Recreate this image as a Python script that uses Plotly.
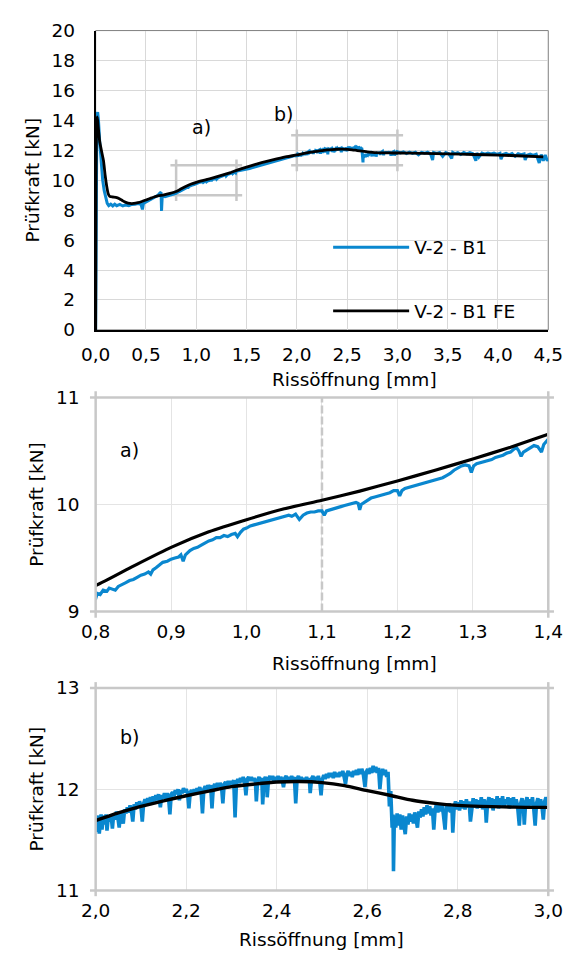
import plotly.graph_objects as go

# ---------------- data ----------------
# measured curve (V-2 - B1), split in sections: (crack opening mm, force kN)
BLUE_START = [(0.000, 0.0), (0.002, 6.0), (0.005, 12.5), (0.012, 14.3), (0.020, 14.55), (0.028, 14.0),
              (0.040, 12.6), (0.055, 11.0), (0.070, 10.0), (0.085, 9.3), (0.100, 8.8), (0.115, 8.45),
              (0.130, 8.30), (0.150, 8.40), (0.170, 8.28), (0.190, 8.40), (0.210, 8.30), (0.240, 8.38),
              (0.270, 8.28), (0.300, 8.35), (0.330, 8.30), (0.360, 8.38), (0.390, 8.40), (0.420, 8.45),
              (0.450, 8.40), (0.465, 8.05), (0.475, 8.45), (0.500, 8.55), (0.530, 8.65), (0.560, 8.80),
              (0.590, 8.90), (0.620, 9.00), (0.640, 9.15), (0.650, 9.20), (0.655, 7.95), (0.662, 8.95),
              (0.690, 8.90), (0.720, 8.95), (0.750, 9.00), (0.780, 9.08)]

BLUE_A = [(0.800, 9.12), (0.802, 9.17), (0.806, 9.16), (0.810, 9.20), (0.815, 9.19), (0.818, 9.22),
          (0.822, 9.21), (0.826, 9.20), (0.830, 9.235), (0.835, 9.25), (0.840, 9.27), (0.845, 9.29),
          (0.850, 9.30), (0.855, 9.32), (0.860, 9.34), (0.865, 9.35), (0.870, 9.37), (0.873, 9.35),
          (0.876, 9.39), (0.880, 9.41), (0.885, 9.44), (0.889, 9.46), (0.895, 9.47), (0.900, 9.49),
          (0.905, 9.50), (0.910, 9.51), (0.913, 9.53), (0.916, 9.47), (0.919, 9.53), (0.925, 9.57),
          (0.930, 9.59), (0.935, 9.60), (0.940, 9.62), (0.945, 9.64), (0.950, 9.66), (0.955, 9.67),
          (0.960, 9.69), (0.965, 9.69), (0.970, 9.71), (0.975, 9.70), (0.980, 9.72), (0.985, 9.73),
          (0.988, 9.70), (0.992, 9.74), (0.996, 9.77), (1.000, 9.78), (1.005, 9.80), (1.010, 9.81),
          (1.015, 9.82), (1.020, 9.83), (1.025, 9.84), (1.030, 9.85), (1.035, 9.86), (1.040, 9.87),
          (1.045, 9.88), (1.050, 9.89), (1.056, 9.90), (1.060, 9.89), (1.065, 9.91), (1.070, 9.86),
          (1.075, 9.90), (1.080, 9.92), (1.085, 9.93), (1.090, 9.93), (1.095, 9.94), (1.100, 9.94),
          (1.103, 9.90), (1.106, 9.94), (1.110, 9.95), (1.115, 9.96), (1.120, 9.97), (1.125, 9.98),
          (1.130, 9.99), (1.135, 10.00), (1.140, 10.01), (1.145, 10.02), (1.148, 10.01), (1.150, 9.95),
          (1.152, 10.00), (1.158, 10.03), (1.165, 10.06), (1.170, 10.07), (1.175, 10.08), (1.180, 10.09),
          (1.185, 10.10), (1.190, 10.11), (1.195, 10.13), (1.200, 10.13), (1.203, 10.08), (1.206, 10.13),
          (1.210, 10.15), (1.215, 10.16), (1.220, 10.17), (1.225, 10.18), (1.230, 10.19), (1.235, 10.20),
          (1.240, 10.21), (1.245, 10.22), (1.250, 10.23), (1.255, 10.24), (1.260, 10.25), (1.265, 10.27),
          (1.270, 10.29), (1.275, 10.32), (1.280, 10.34), (1.285, 10.36), (1.290, 10.37), (1.295, 10.36),
          (1.298, 10.30), (1.301, 10.36), (1.305, 10.38), (1.310, 10.39), (1.315, 10.40), (1.320, 10.41),
          (1.325, 10.42), (1.330, 10.44), (1.335, 10.45), (1.340, 10.46), (1.345, 10.48), (1.350, 10.49),
          (1.355, 10.52), (1.358, 10.53), (1.361, 10.50), (1.364, 10.45), (1.367, 10.49), (1.372, 10.51),
          (1.377, 10.53), (1.381, 10.55), (1.386, 10.54), (1.391, 10.49), (1.394, 10.56), (1.398, 10.60),
          (1.400, 10.61), (1.405, 10.62)]

BLUE_MID = [(1.42, 10.63), (1.45, 10.66), (1.48, 10.70), (1.50, 10.74), (1.53, 10.78), (1.56, 10.84),
            (1.60, 10.92), (1.63, 10.98), (1.66, 11.04), (1.70, 11.12), (1.73, 11.18), (1.76, 11.24),
            (1.80, 11.32), (1.83, 11.37), (1.86, 11.42), (1.90, 11.48), (1.93, 11.54), (1.96, 11.60),
            (1.99, 11.66)]

BLUE_B = [(2.000, 11.58), (2.002, 11.72), (2.004, 11.62), (2.006, 11.74), (2.008, 11.56), (2.010, 11.70),
          (2.012, 11.75), (2.014, 11.60), (2.017, 11.74), (2.020, 11.65), (2.023, 11.75), (2.025, 11.59),
          (2.028, 11.73), (2.031, 11.68), (2.034, 11.75), (2.037, 11.61), (2.040, 11.76), (2.043, 11.70),
          (2.046, 11.78), (2.049, 11.72), (2.052, 11.62), (2.055, 11.77), (2.058, 11.74), (2.061, 11.66),
          (2.064, 11.80), (2.067, 11.76), (2.070, 11.82), (2.073, 11.77), (2.076, 11.84), (2.079, 11.79),
          (2.082, 11.68), (2.085, 11.85), (2.088, 11.80), (2.091, 11.87), (2.094, 11.82), (2.097, 11.88),
          (2.100, 11.83), (2.103, 11.68), (2.106, 11.86), (2.109, 11.90), (2.112, 11.85), (2.115, 11.91),
          (2.118, 11.86), (2.121, 11.92), (2.124, 11.86), (2.127, 11.93), (2.130, 11.88), (2.133, 11.94),
          (2.136, 11.89), (2.139, 11.95), (2.143, 11.82), (2.146, 11.94), (2.149, 11.91), (2.152, 11.96),
          (2.155, 11.90), (2.158, 11.96), (2.161, 11.92), (2.164, 11.75), (2.167, 11.95), (2.170, 11.97),
          (2.173, 11.93), (2.176, 11.99), (2.179, 11.95), (2.182, 12.00), (2.185, 11.89), (2.188, 11.99),
          (2.191, 11.96), (2.194, 12.01), (2.197, 11.97), (2.200, 12.00), (2.203, 11.96), (2.206, 11.81),
          (2.209, 11.97), (2.212, 11.99), (2.215, 11.95), (2.218, 12.00), (2.221, 11.96), (2.224, 12.01),
          (2.227, 11.98), (2.230, 12.02), (2.233, 11.97), (2.236, 11.76), (2.239, 12.00), (2.242, 12.03),
          (2.245, 11.99), (2.248, 12.04), (2.251, 12.00), (2.254, 12.04), (2.257, 11.81), (2.260, 12.02),
          (2.263, 12.05), (2.266, 12.01), (2.269, 12.06), (2.272, 12.02), (2.275, 12.06), (2.278, 12.03),
          (2.281, 11.86), (2.284, 12.05), (2.287, 12.07), (2.290, 12.03), (2.293, 12.08), (2.296, 12.04),
          (2.299, 12.08), (2.302, 12.05), (2.305, 12.09), (2.308, 11.72), (2.311, 12.06), (2.314, 12.10),
          (2.317, 12.06), (2.320, 12.11), (2.323, 12.07), (2.326, 12.12), (2.329, 12.08), (2.332, 11.94),
          (2.335, 12.10), (2.338, 12.12), (2.341, 12.08), (2.344, 12.12), (2.347, 12.08), (2.350, 12.11),
          (2.353, 12.07), (2.355, 11.88), (2.358, 12.09), (2.361, 12.12), (2.364, 12.08), (2.367, 12.11),
          (2.369, 11.85), (2.372, 12.09), (2.375, 12.12), (2.378, 12.07), (2.379, 11.92), (2.382, 12.10),
          (2.385, 12.13), (2.388, 12.09), (2.391, 12.13), (2.394, 12.08), (2.397, 12.12), (2.400, 12.09),
          (2.403, 12.13), (2.406, 12.08), (2.409, 12.12), (2.412, 12.09), (2.415, 12.02), (2.418, 12.11),
          (2.421, 12.13), (2.424, 12.08), (2.427, 12.12), (2.430, 12.08), (2.433, 12.13), (2.436, 12.09),
          (2.439, 12.12), (2.442, 11.86), (2.445, 12.10), (2.448, 12.13), (2.451, 12.08), (2.454, 12.12),
          (2.457, 12.07), (2.460, 12.11), (2.463, 12.08), (2.466, 12.12), (2.469, 12.07), (2.472, 12.11),
          (2.474, 11.96), (2.477, 12.10), (2.480, 12.13), (2.483, 12.08), (2.486, 12.12), (2.489, 12.09),
          (2.492, 12.13), (2.495, 12.08), (2.498, 11.94), (2.501, 12.10), (2.504, 12.14), (2.507, 12.10),
          (2.510, 12.15), (2.513, 12.11), (2.516, 12.16), (2.519, 12.12), (2.522, 12.16), (2.525, 12.11),
          (2.528, 12.17), (2.531, 12.12), (2.534, 12.16), (2.537, 12.12), (2.540, 12.17), (2.543, 12.13),
          (2.546, 12.18), (2.549, 12.12), (2.552, 12.05), (2.555, 12.15), (2.558, 12.18), (2.561, 12.13),
          (2.564, 12.17), (2.567, 12.12), (2.570, 12.18), (2.573, 12.14), (2.576, 12.19), (2.579, 12.14),
          (2.582, 12.20), (2.585, 12.15), (2.588, 12.20), (2.591, 12.16), (2.595, 12.02), (2.598, 12.17),
          (2.601, 12.20), (2.604, 12.15), (2.607, 12.21), (2.610, 12.16), (2.613, 12.23), (2.616, 12.17),
          (2.619, 12.22), (2.622, 12.16), (2.625, 12.21), (2.628, 12.00), (2.631, 12.15), (2.634, 12.20),
          (2.637, 12.14), (2.640, 12.19), (2.643, 12.12), (2.646, 12.17), (2.649, 11.83), (2.652, 11.98),
          (2.655, 11.62), (2.657, 11.75), (2.658, 11.19), (2.660, 11.74), (2.663, 11.62), (2.666, 11.76),
          (2.669, 11.64), (2.672, 11.75), (2.675, 11.60), (2.678, 11.74), (2.681, 11.63), (2.684, 11.555),
          (2.687, 11.73), (2.690, 11.65), (2.693, 11.76), (2.696, 11.68), (2.699, 11.75), (2.702, 11.66),
          (2.705, 11.77), (2.708, 11.70), (2.711, 11.62), (2.714, 11.78), (2.717, 11.72), (2.720, 11.80),
          (2.723, 11.73), (2.726, 11.82), (2.729, 11.75), (2.732, 11.84), (2.735, 11.76), (2.738, 11.83),
          (2.741, 11.74), (2.744, 11.81), (2.747, 11.60), (2.750, 11.80), (2.753, 11.85), (2.756, 11.77),
          (2.759, 11.86), (2.762, 11.78), (2.765, 11.85), (2.768, 11.76), (2.772, 11.60), (2.775, 11.84),
          (2.778, 11.78), (2.781, 11.86), (2.784, 11.77), (2.787, 11.83), (2.789, 11.57), (2.792, 11.82),
          (2.795, 11.88), (2.798, 11.80), (2.801, 11.87), (2.804, 11.79), (2.807, 11.89), (2.810, 11.81),
          (2.813, 11.88), (2.816, 11.80), (2.819, 11.90), (2.822, 11.82), (2.825, 11.88), (2.828, 11.68),
          (2.831, 11.85), (2.834, 11.91), (2.837, 11.82), (2.840, 11.90), (2.843, 11.81), (2.846, 11.89),
          (2.849, 11.83), (2.852, 11.92), (2.855, 11.80), (2.858, 11.90), (2.861, 11.84), (2.863, 11.67),
          (2.866, 11.87), (2.869, 11.92), (2.872, 11.82), (2.875, 11.91), (2.878, 11.79), (2.881, 11.90),
          (2.884, 11.83), (2.887, 11.93), (2.890, 11.81), (2.893, 11.91), (2.896, 11.84), (2.899, 11.93),
          (2.902, 11.82), (2.905, 11.90), (2.908, 11.85), (2.911, 11.92), (2.914, 11.81), (2.917, 11.91),
          (2.920, 11.84), (2.923, 11.92), (2.926, 11.82), (2.929, 11.90), (2.932, 11.84), (2.936, 11.64),
          (2.939, 11.86), (2.942, 11.91), (2.945, 11.83), (2.947, 11.65), (2.950, 11.87), (2.953, 11.92),
          (2.956, 11.82), (2.959, 11.90), (2.962, 11.84), (2.965, 11.92), (2.968, 11.80), (2.971, 11.64),
          (2.974, 11.86), (2.977, 11.91), (2.980, 11.82), (2.983, 11.90), (2.986, 11.83), (2.989, 11.70),
          (2.992, 11.88), (2.995, 11.92), (2.998, 11.84), (3.000, 11.90)]

BLUE_END = [(3.03, 11.82), (3.06, 11.90), (3.09, 11.78), (3.12, 11.88), (3.15, 11.80), (3.18, 11.87),
            (3.21, 11.70), (3.24, 11.86), (3.27, 11.80), (3.30, 11.88), (3.33, 11.75), (3.35, 11.35),
            (3.36, 11.86), (3.39, 11.79), (3.42, 11.85), (3.45, 11.60), (3.48, 11.85), (3.51, 11.77),
            (3.54, 11.45), (3.55, 11.86), (3.57, 11.78), (3.60, 11.84), (3.63, 11.72), (3.66, 11.85),
            (3.69, 11.76), (3.72, 11.84), (3.75, 11.77), (3.78, 11.30), (3.79, 11.83), (3.81, 11.55),
            (3.84, 11.82), (3.87, 11.74), (3.90, 11.82), (3.93, 11.75), (3.96, 11.81), (3.99, 11.72),
            (4.02, 11.80), (4.03, 11.40), (4.05, 11.73), (4.08, 11.80), (4.11, 11.70), (4.14, 11.78),
            (4.17, 11.60), (4.20, 11.77), (4.23, 11.70), (4.26, 11.76), (4.27, 11.35), (4.29, 11.68),
            (4.32, 11.75), (4.35, 11.66), (4.38, 11.74), (4.41, 11.15), (4.43, 11.72), (4.45, 11.30),
            (4.47, 11.68), (4.49, 11.30), (4.50, 11.40)]

# FE simulation (V-2 - B1 FE)
FE_CURVE = [(0.000, 0.0), (0.004, 10.0), (0.010, 13.8), (0.016, 14.23), (0.025, 13.6), (0.040, 12.6),
            (0.060, 11.9), (0.078, 11.3), (0.095, 10.3), (0.110, 9.6), (0.125, 9.1), (0.140, 8.92),
            (0.170, 8.88), (0.200, 8.86), (0.236, 8.77), (0.270, 8.62), (0.300, 8.52), (0.340, 8.45),
            (0.380, 8.45), (0.420, 8.50), (0.460, 8.58), (0.500, 8.68), (0.540, 8.78), (0.580, 8.88),
            (0.620, 8.95), (0.680, 9.02), (0.740, 9.12), (0.800, 9.244), (0.850, 9.425), (0.900, 9.60),
            (0.950, 9.745), (1.000, 9.858), (1.050, 9.96), (1.100, 10.04), (1.150, 10.125), (1.200, 10.22),
            (1.250, 10.32), (1.300, 10.425), (1.350, 10.535), (1.400, 10.656), (1.500, 10.88), (1.600, 11.08),
            (1.700, 11.26), (1.800, 11.42), (1.900, 11.57), (2.000, 11.69), (2.050, 11.765), (2.100, 11.83),
            (2.150, 11.885), (2.200, 11.935), (2.250, 11.98), (2.300, 12.025), (2.350, 12.05), (2.400, 12.07),
            (2.450, 12.075), (2.500, 12.065), (2.550, 12.035), (2.600, 11.985), (2.650, 11.94), (2.700, 11.89),
            (2.750, 11.86), (2.800, 11.84), (2.850, 11.83), (2.900, 11.825), (2.950, 11.82), (3.000, 11.82),
            (3.250, 11.79), (3.500, 11.76), (3.750, 11.72), (4.000, 11.68), (4.250, 11.62), (4.450, 11.56)]

# zoom windows (detail a and b)
ZOOM_A_X = [0.8, 1.4]
ZOOM_A_Y = [9, 11]
ZOOM_B_X = [2.0, 3.0]
ZOOM_B_Y = [11, 13]
MARK_A_X = 1.1  # dashed marker in detail a)

TOP_X_RANGE = [0, 4.5]
TOP_Y_RANGE = [0, 20]

SERIES_NAMES = ["V-2 - B1", "V-2 - B1 FE"]
X_TITLE = "Rissöffnung [mm]"
Y_TITLE = "Prüfkraft [kN]"

blue = BLUE_START + BLUE_A + BLUE_MID + BLUE_B + BLUE_END
BLUE_X = [p[0] for p in blue]
BLUE_Y = [p[1] for p in blue]
FE_X = [p[0] for p in FE_CURVE]
FE_Y = [p[1] for p in FE_CURVE]

# ---------------- style ----------------
W, H = 587, 963
FONT = "DejaVu Sans"
FS = 18.5
BLUE = "#0a87cf"
GRID_TOP = "#d9d9d9"
GRID_ZOOM = "#e4e4e4"
FRAME = "#c8c8c8"

X_DOM = [85 / W, 562 / W]
Y_DOM_TOP = [(H - 326) / H, (H - 20) / H]
Y_DOM_MID = [(H - 614) / H, (H - 395) / H]
Y_DOM_BOT = [(H - 899) / H, (H - 692) / H]

fig = go.Figure()


def bracket(xr, yr, ex, ey):
    xs = [xr[0] - ex, xr[1] + ex, None, xr[0] - ex, xr[1] + ex, None,
          xr[0], xr[0], None, xr[1], xr[1]]
    ys = [yr[0], yr[0], None, yr[1], yr[1], None,
          yr[0] - ey, yr[1] + ey, None, yr[0] - ey, yr[1] + ey]
    return xs, ys


ext_px = 6
ex = ext_px * (TOP_X_RANGE[1] - TOP_X_RANGE[0]) / (562 - 85)
ey = ext_px * (TOP_Y_RANGE[1] - TOP_Y_RANGE[0]) / (326 - 20)
for xr, yr in [(ZOOM_A_X, ZOOM_A_Y), (ZOOM_B_X, ZOOM_B_Y)]:
    bx, by = bracket(xr, yr, ex, ey)
    fig.add_trace(go.Scatter(x=bx, y=by, mode="lines", line=dict(color=FRAME, width=2.5),
                             showlegend=False, hoverinfo="skip", xaxis="x", yaxis="y"))

fig.add_trace(go.Scatter(x=[MARK_A_X, MARK_A_X], y=ZOOM_A_Y, mode="lines",
                         line=dict(color=FRAME, width=2.5, dash="8px,3px"),
                         showlegend=False, hoverinfo="skip", xaxis="x2", yaxis="y2"))

panels = [("x", "y", 3.0, 2.8), ("x2", "y2", 3.2, 3.2), ("x3", "y3", 3.6, 3.4)]
for i, (xa, ya, bw, kw) in enumerate(panels):
    fig.add_trace(go.Scatter(x=BLUE_X, y=BLUE_Y, mode="lines", name=SERIES_NAMES[0],
                             line=dict(color=BLUE, width=bw), showlegend=(i == 0),
                             legend="legend", xaxis=xa, yaxis=ya))
    fig.add_trace(go.Scatter(x=FE_X, y=FE_Y, mode="lines", name=SERIES_NAMES[1],
                             line=dict(color="black", width=kw, shape="spline", smoothing=0.6),
                             showlegend=(i == 0), legend="legend2", xaxis=xa, yaxis=ya))

tickfont = dict(family=FONT, size=FS, color="black")
titlefont = dict(family=FONT, size=FS, color="black")

common_x = dict(tickfont=tickfont, tickformat=".1f", ticks="", ticklabelstandoff=7,
                zeroline=False, domain=X_DOM)
common_y = dict(tickfont=tickfont, title=dict(text=Y_TITLE, font=titlefont, standoff=7),
                ticks="", ticklabelstandoff=15, zeroline=False, tickformat="d")

fig.update_layout(
    width=W, height=H,
    margin=dict(l=0, r=0, t=0, b=0),
    paper_bgcolor="white", plot_bgcolor="white",
    separators=", ",
    font=dict(family=FONT, size=FS, color="black"),
    xaxis=dict(common_x, range=TOP_X_RANGE, dtick=0.5, anchor="y", showgrid=True, gridcolor=GRID_TOP,
               gridwidth=1.3, showline=True, linecolor="black", linewidth=2),
    yaxis=dict(common_y, range=TOP_Y_RANGE, dtick=2, domain=Y_DOM_TOP, anchor="x", showgrid=True,
               gridcolor=GRID_TOP, gridwidth=1.3, showline=True, linecolor="black", linewidth=2),
    xaxis2=dict(common_x, range=ZOOM_A_X, dtick=0.1, anchor="y2", showgrid=True, gridcolor=GRID_ZOOM,
                gridwidth=1.2, showline=False),
    yaxis2=dict(common_y, range=ZOOM_A_Y, dtick=1, domain=Y_DOM_MID, anchor="x2", showgrid=True,
                gridcolor=GRID_ZOOM, gridwidth=1.2, showline=False),
    xaxis3=dict(common_x, range=ZOOM_B_X, dtick=0.2, anchor="y3", showgrid=True, gridcolor=GRID_ZOOM,
                gridwidth=1.2, showline=False),
    yaxis3=dict(common_y, range=ZOOM_B_Y, dtick=1, domain=Y_DOM_BOT, anchor="x3", showgrid=True,
                gridcolor=GRID_ZOOM, gridwidth=1.2, showline=False),
    legend=dict(x=330 / W, y=(H - 242) / H, xanchor="left", yanchor="middle",
                bgcolor="rgba(0,0,0,0)", font=dict(family=FONT, size=FS), itemwidth=76),
    legend2=dict(x=330 / W, y=(H - 307) / H, xanchor="left", yanchor="middle",
                 bgcolor="rgba(0,0,0,0)", font=dict(family=FONT, size=FS), itemwidth=76),
    showlegend=True,
)

shapes = [dict(type="rect", xref="x domain", yref="y domain", x0=0, x1=1, y0=0, y1=1,
               line=dict(color="#7f7f7f", width=1), layer="below")]
for xr_, yr_ in [("x2 domain", "y2 domain"), ("x3 domain", "y3 domain")]:
    ox = ext_px / (562 - 85)
    oy = ext_px / 210
    for yy in (0, 1):
        shapes.append(dict(type="line", xref=xr_, yref=yr_, x0=-ox, x1=1 + ox, y0=yy, y1=yy,
                           line=dict(color=FRAME, width=2.5), layer="above"))
    for xx in (0, 1):
        shapes.append(dict(type="line", xref=xr_, yref=yr_, x0=xx, x1=xx, y0=-oy, y1=1 + oy,
                           line=dict(color=FRAME, width=2.5), layer="above"))
fig.update_layout(shapes=shapes)

# x axis titles (placed as in the reference)
xt = dict(showarrow=False, font=titlefont, xref="paper", yref="paper", xanchor="center", yanchor="middle")
fig.add_annotation(text=X_TITLE, x=358 / W, y=(H - 377) / H, **xt)
fig.add_annotation(text=X_TITLE, x=358 / W, y=(H - 667) / H, **xt)
fig.add_annotation(text=X_TITLE, x=323.5 / W, y=(H - 949) / H, **xt)

# panel labels
lab = dict(showarrow=False, font=dict(family=FONT, size=19, color="black"))
fig.add_annotation(text="a)", x=1.054, y=13.57, xref="x", yref="y", **lab)
fig.add_annotation(text="b)", x=1.868, y=14.44, xref="x", yref="y", **lab)
fig.add_annotation(text="a)", x=0.845, y=10.51, xref="x2", yref="y2", **lab)
fig.add_annotation(text="b)", x=2.075, y=12.52, xref="x3", yref="y3", **lab)

fig.write_html("out.html", config={"displayModeBar": False},
               post_script="document.body.style.margin='0px';")
